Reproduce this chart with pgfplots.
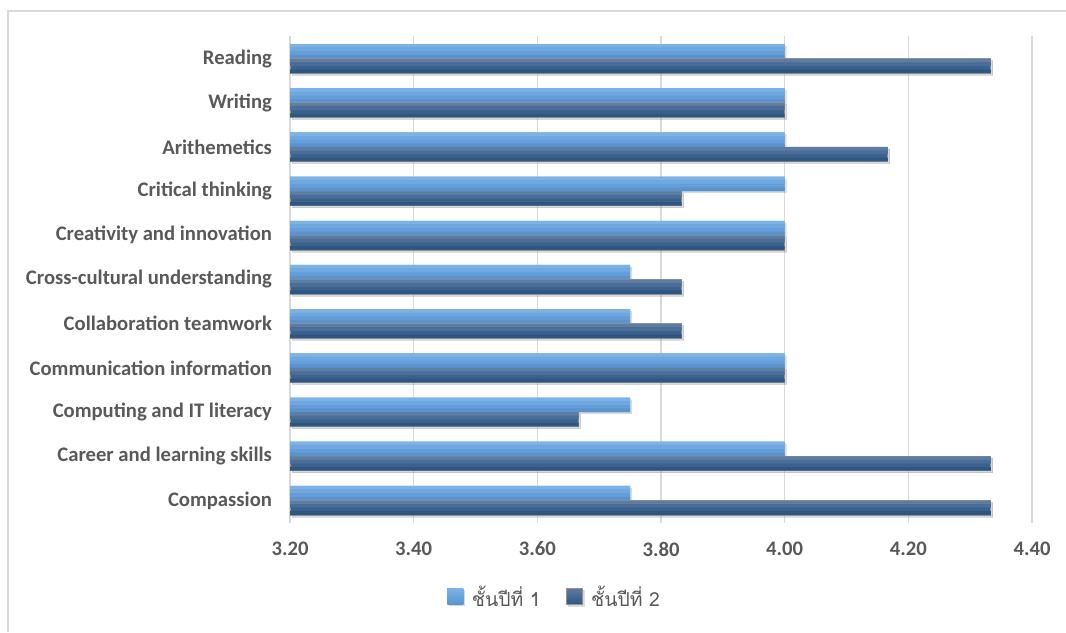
\documentclass[border=0pt]{standalone}
\usepackage{fontspec}
\setmainfont{Carlito}
\newfontfamily\thaifont[Script=Thai]{Loma}
\usepackage{pgfplots}
\usepackage{pgfplotstable}
\pgfplotsset{compat=1.18}
\usetikzlibrary{shadows}
\definecolor{lA}{HTML}{7CB3E7}
\definecolor{lB}{HTML}{6FA7DF}
\definecolor{lC}{HTML}{649DD7}
\definecolor{lD}{HTML}{5A94CF}
\definecolor{dA}{HTML}{5D7DA3}
\definecolor{dB}{HTML}{4A6E98}
\definecolor{dC}{HTML}{3A628C}
\definecolor{dD}{HTML}{2D5782}
\definecolor{txt}{HTML}{595959}
\definecolor{gridc}{HTML}{D9D9D9}

% y: 10 = Reading (top) ... 0 = Compassion (bottom)
\pgfplotstableread{
y  first  second
0  3.75   4.3333
1  4.00   4.3333
2  3.75   3.6667
3  4.00   4.00
4  3.75   3.8333
5  3.75   3.8333
6  4.00   4.00
7  4.00   3.8333
8  4.00   4.1667
9  4.00   4.00
10 4.00   4.3333
}\scores

\begin{document}
\begin{tikzpicture}
% 1 px of the reference = 0.75pt
\useasboundingbox (0pt,0pt) rectangle (799.5pt,474pt);
\draw[gridc, line width=1.2pt] (6pt,0pt) -- (6pt,465.75pt) -- (799.5pt,465.75pt);
\begin{axis}[
  at={(217.5pt,82.125pt)}, anchor=south west,
  scale only axis,
  width=556.5pt, height=364.5pt,
  xbar, bar width=10.9pt,
  xmin=3.2, xmax=4.4,
  ymin=-0.5, ymax=10.5,
  xtick={3.2,3.4,3.6,3.8,4.0,4.2,4.4},
  xticklabel={\pgfmathprintnumber[fixed,fixed zerofill,precision=2]{\tick}},
  ytick={0,...,10},
  yticklabels={Compassion,Career and learning skills,Computing and IT literacy,Communication information,Collaboration teamwork,Cross-cultural understanding,Creativity and innovation,Critical thinking ,Arithemetics,Writing,Reading},
  /pgf/number format/assume math mode=true,
  ticklabel style={font=\fontsize{15.5}{18}\selectfont\bfseries, text=txt},
  yticklabel style={xshift=-10pt},
  xticklabel style={yshift=-11pt},
  major tick length=0pt,
  axis line style={draw=none},
  xmajorgrids, grid style={gridc, line width=0.9pt},
  legend style={at={(axis description cs:0.357,-0.153)}, anchor=center, draw=none,
    legend columns=2, font=\thaifont\fontsize{14.5}{16}\selectfont, text=txt,
    /tikz/every even column/.append style={column sep=17pt}},
]
% first year: base bar, then strips for the vertical gradient
\addplot[bar shift=5.45pt, draw=none, fill=lC,
  drop shadow={opacity=0.3, shadow xshift=1.5pt, shadow yshift=-1.5pt},
  legend image code/.code={\shade[top color=lA, bottom color=lD] (0pt,-5.5pt) rectangle (12pt,6.5pt); \path (16.5pt,0pt);}]
  table[x=first, y=y] {\scores};
\addlegendentry{ชั้นปีที่ 1}
\addplot[forget plot, bar width=2.725pt, bar shift=9.5375pt, draw=none, fill=lA] table[x=first, y=y] {\scores};
\addplot[forget plot, bar width=2.725pt, bar shift=6.8125pt, draw=none, fill=lB] table[x=first, y=y] {\scores};
\addplot[forget plot, bar width=2.725pt, bar shift=1.3625pt, draw=none, fill=lD] table[x=first, y=y] {\scores};
% second year
\addplot[bar shift=-5.45pt, draw=gray!85, line width=0.5pt, fill=dC,
  drop shadow={opacity=0.3, shadow xshift=1.5pt, shadow yshift=-1.5pt},
  legend image code/.code={\shade[top color=dA, bottom color=dD] (0pt,-5.5pt) rectangle (12pt,6.5pt); \path (16.5pt,0pt);}]
  table[x=second, y=y] {\scores};
\addlegendentry{ชั้นปีที่ 2}
\addplot[forget plot, bar width=2.725pt, bar shift=-1.5pt, draw=none, fill=dA] table[x=second, y=y] {\scores};
\addplot[forget plot, bar width=2.725pt, bar shift=-4.1pt, draw=none, fill=dB] table[x=second, y=y] {\scores};
\addplot[forget plot, bar width=2.725pt, bar shift=-9.45pt, draw=none, fill=dD] table[x=second, y=y] {\scores};
\end{axis}
\end{tikzpicture}
\end{document}
